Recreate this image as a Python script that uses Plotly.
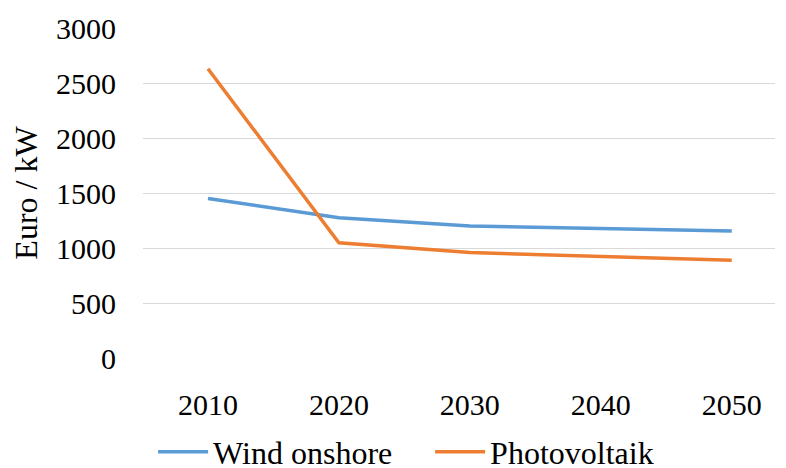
import plotly.graph_objects as go

years = [2010, 2020, 2030, 2040, 2050]
wind_onshore = [1450, 1275, 1200, 1177, 1155]
photovoltaik = [2630, 1048, 958, 922, 888]
y_ticks = [0, 500, 1000, 1500, 2000, 2500, 3000]

font_family = "Liberation Serif"
fs = 30

fig = go.Figure()
fig.add_trace(go.Scatter(x=years, y=wind_onshore, mode="lines", name="Wind onshore",
                         line=dict(color="#5B9BD5", width=3.5)))
fig.add_trace(go.Scatter(x=years, y=photovoltaik, mode="lines", name="Photovoltaik",
                         line=dict(color="#ED7D31", width=3.5)))

fig.update_layout(
    width=778, height=460,
    margin=dict(l=135, r=11, t=20, b=110, autoexpand=False),
    paper_bgcolor="white", plot_bgcolor="white",
    font=dict(family=font_family, size=fs, color="#000000"),
    showlegend=True,
    legend=dict(orientation="h", x=0.016, xanchor="left", y=-0.285, yanchor="middle",
                font=dict(family=font_family, size=32), itemwidth=50, entrywidth=212,
                tracegroupgap=0, bgcolor="rgba(0,0,0,0)"),
    xaxis=dict(range=[2005.04, 2053.3], tickvals=years, ticktext=[str(y) for y in years],
               showgrid=False, zeroline=False, showline=False, ticks="", automargin=False,
               ticklabelstandoff=26, tickfont=dict(family=font_family, size=fs)),
    yaxis=dict(range=[0, 3000], tickvals=y_ticks, showgrid=True, gridcolor="#D9D9D9",
               gridwidth=1.3, zeroline=False, showline=False, ticks="", automargin=False,
               ticklabelstandoff=26, tickfont=dict(family=font_family, size=fs),
               title=dict(text="Euro / kW", font=dict(family=font_family, size=32), standoff=10)),
)

fig.write_html("out.html")
